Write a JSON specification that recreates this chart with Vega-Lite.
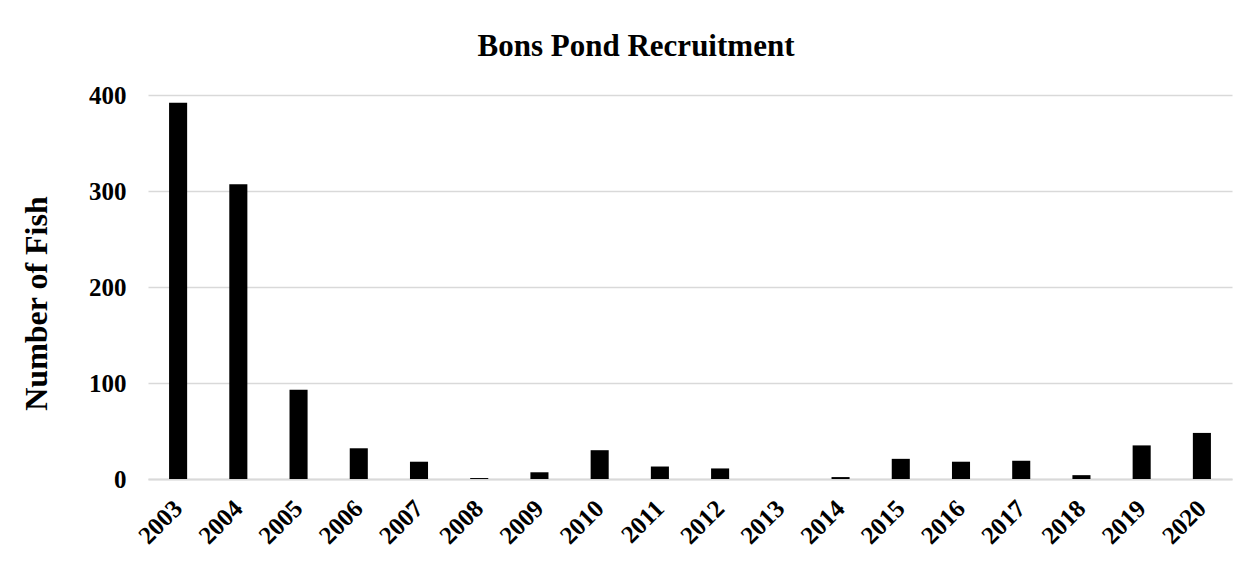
{
  "$schema": "https://vega.github.io/schema/vega-lite/v6.json",
  "autosize": {"type": "none"},
  "width": 1084,
  "height": 384,
  "padding": {"left": 148, "top": 95, "right": 28, "bottom": 90},
  "background": "white",
  "config": {
    "view": {"stroke": null},
    "font": "Liberation Serif"
  },
  "title": {
    "text": "Bons Pond Recruitment",
    "font": "Liberation Serif",
    "fontSize": 31,
    "fontWeight": "bold",
    "color": "black",
    "anchor": "middle",
    "dx": -54,
    "offset": 20
  },
  "data": {
    "values": [
      {"year": "2003", "fish": 392},
      {"year": "2004", "fish": 307},
      {"year": "2005", "fish": 93},
      {"year": "2006", "fish": 32},
      {"year": "2007", "fish": 18},
      {"year": "2008", "fish": 1},
      {"year": "2009", "fish": 7},
      {"year": "2010", "fish": 30},
      {"year": "2011", "fish": 13},
      {"year": "2012", "fish": 11},
      {"year": "2013", "fish": 0},
      {"year": "2014", "fish": 2},
      {"year": "2015", "fish": 21},
      {"year": "2016", "fish": 18},
      {"year": "2017", "fish": 19},
      {"year": "2018", "fish": 4},
      {"year": "2019", "fish": 35},
      {"year": "2020", "fish": 48}
    ]
  },
  "mark": {"type": "bar", "color": "black"},
  "encoding": {
    "x": {
      "field": "year",
      "type": "ordinal",
      "scale": {"paddingInner": 0.7, "paddingOuter": 0.35},
      "axis": {
        "title": null,
        "labelAngle": -45,
        "labelAlign": "right",
        "labelBaseline": "middle",
        "labelFont": "Liberation Serif",
        "labelFontSize": 25,
        "labelFontWeight": "bold",
        "labelColor": "black",
        "labelPadding": 25,
        "ticks": false,
        "domainColor": "#d9d9d9",
        "domainWidth": 2
      }
    },
    "y": {
      "field": "fish",
      "type": "quantitative",
      "scale": {"domain": [0, 400]},
      "axis": {
        "title": "Number of Fish",
        "titleFont": "Liberation Serif",
        "titleFontSize": 32,
        "titleFontWeight": "bold",
        "titleColor": "black",
        "titleAngle": -90,
        "titleX": -112,
        "titleY": 208,
        "titleAlign": "center",
        "titleBaseline": "middle",
        "values": [0, 100, 200, 300, 400],
        "labelFont": "Liberation Serif",
        "labelFontSize": 25,
        "labelFontWeight": "bold",
        "labelColor": "black",
        "labelPadding": 22,
        "ticks": false,
        "domain": false,
        "grid": true,
        "gridColor": "#d9d9d9",
        "gridWidth": 1.5
      }
    }
  }
}
